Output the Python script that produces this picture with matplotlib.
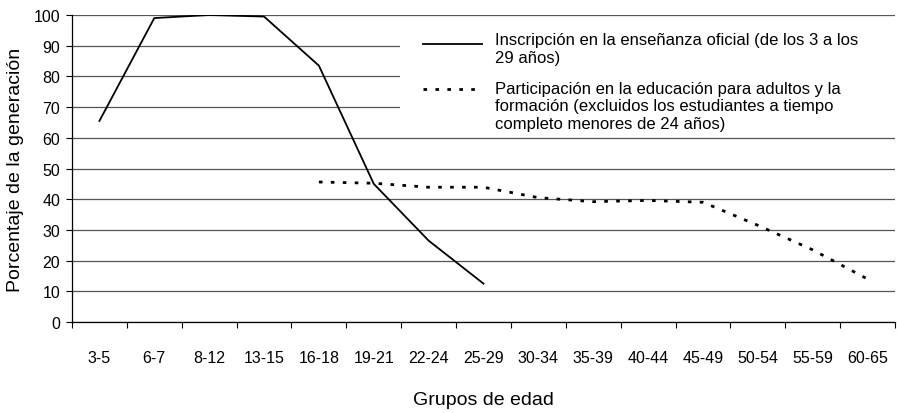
import matplotlib
matplotlib.use("Agg")
import matplotlib.pyplot as plt
from matplotlib.patches import Rectangle

plt.rcParams['font.family'] = ['Liberation Sans', 'DejaVu Sans']

# datos
grupos = ["3-5", "6-7", "8-12", "13-15", "16-18", "19-21", "22-24", "25-29",
          "30-34", "35-39", "40-44", "45-49", "50-54", "55-59", "60-65"]
inscripcion = [65.5, 99, 100, 99.5, 83.5, 45, 26.5, 12.5]
participacion = [45.6, 45.2, 43.9, 43.9, 40.5, 39.2, 39.6, 39, 31.5, 23.5, 14]

lab_inscripcion = "Inscripción en la enseñanza oficial (de los 3 a los\n29 años)"
lab_participacion = ("Participación en la educación para adultos y la\n"
                     "formación (excluidos los estudiantes a tiempo\n"
                     "completo menores de 24 años)")

W, H = 897, 414
fig = plt.figure(figsize=(W / 100, H / 100), dpi=100)
x0, x1, ytop, ybot = 72, 895, 16, 323
ax = fig.add_axes([x0 / W, (H - ybot) / H, (x1 - x0) / W, (ybot - ytop) / H])

xs = list(range(len(grupos)))
dotted = (0, (1.3, 3.0))

ax.plot(xs[:len(inscripcion)], inscripcion, color='black', lw=1.3, zorder=3)
ax.plot(xs[4:4 + len(participacion)], participacion, color='black', lw=2.0,
        linestyle=dotted, zorder=3)

ax.set_xlim(-0.5, len(grupos) - 0.5)
ax.set_ylim(0, 100)
ax.set_yticks(range(0, 101, 10))
ax.yaxis.grid(True, color='#555555', lw=0.9)
ax.set_axisbelow(True)

ax.set_xticks(xs)
ax.set_xticklabels(grupos)
ax.set_xticks([i - 0.5 for i in range(len(grupos) + 1)], minor=True)
ax.tick_params(axis='x', which='major', length=0, pad=20, labelsize=11.5)
ax.tick_params(axis='x', which='minor', length=4.5, width=0.8, direction='out')
ax.tick_params(axis='y', length=4.5, width=0.8, labelsize=11.5, pad=4)

for s in ['top', 'right']:
    ax.spines[s].set_visible(False)
ax.spines['left'].set_linewidth(0.9)
ax.spines['bottom'].set_linewidth(0.9)

ax.set_xlabel("Grupos de edad", fontsize=14, labelpad=19)
ax.set_ylabel("Porcentaje de la generación", fontsize=14, labelpad=7)

# leyenda
def fx(px):
    return (px - x0) / (x1 - x0)

def fy(py):
    return (ybot - py) / (ybot - ytop)

ax.add_patch(Rectangle((fx(400), fy(135)), 1.0, fy(22) - fy(135),
                       transform=ax.transAxes, facecolor='white',
                       edgecolor='none', zorder=2, clip_on=False))
ax.plot([fx(423), fx(482)], [fy(45), fy(45)], transform=ax.transAxes,
        color='black', lw=1.3, zorder=4, clip_on=False)
ax.plot([fx(423), fx(482)], [fy(90), fy(90)], transform=ax.transAxes,
        color='black', lw=2.0, linestyle=dotted, zorder=4, clip_on=False)
ax.text(fx(495), fy(33), lab_inscripcion, transform=ax.transAxes,
        fontsize=12, va='top', ha='left', linespacing=1.25, zorder=4)
ax.text(fx(495), fy(82), lab_participacion, transform=ax.transAxes,
        fontsize=12, va='top', ha='left', linespacing=1.19, zorder=4)

fig.savefig("out.png", dpi=100)
